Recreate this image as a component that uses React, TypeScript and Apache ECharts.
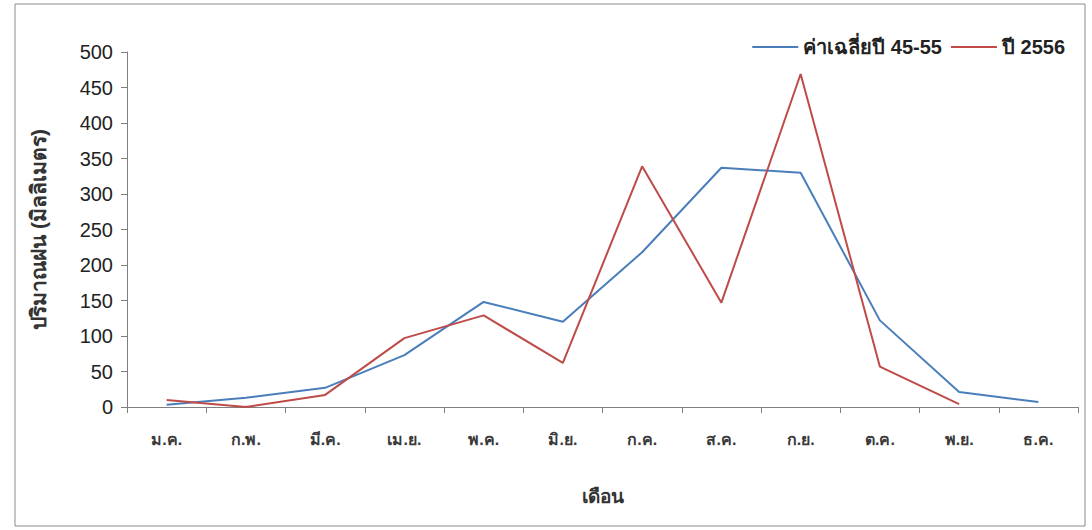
import React, { useEffect, useRef } from "react";
import * as echarts from "echarts";

const months = ["ม.ค.", "ก.พ.", "มี.ค.", "เม.ย.", "พ.ค.", "มิ.ย.", "ก.ค.", "ส.ค.", "ก.ย.", "ต.ค.", "พ.ย.", "ธ.ค."];
const avg4555 = [3, 13, 27, 73, 148, 120, 218, 337, 330, 122, 21, 7];
const year2556 = [10, 0, 17, 97, 129, 62, 339, 147, 469, 57, 4, null];

const FONT = "Liberation Sans, Arial, Noto Sans, sans-serif";

export default function App() {
  const ref = useRef<HTMLDivElement>(null);

  useEffect(() => {
    if (!ref.current) return;
    const chart = echarts.init(ref.current, null, { renderer: "svg" });
    chart.setOption({
      animation: false,
      backgroundColor: "#ffffff",
      textStyle: { fontFamily: FONT },
      graphic: [
        {
          type: "rect",
          shape: { x: 15, y: 4, width: 1070, height: 522 },
          style: { fill: "none", stroke: "#8a8a8a", lineWidth: 1 },
          silent: true,
        },
      ],
      legend: {
        top: 32,
        right: 22,
        itemWidth: 46,
        itemHeight: 2,
        itemGap: 9,
        icon: "rect",
        textStyle: { fontSize: 20, color: "#222", fontWeight: "bold", fontFamily: FONT },
        data: ["ค่าเฉลี่ยปี 45-55", "ปี 2556"],
      },
      grid: { left: 127, right: 14, top: 52, bottom: 123 },
      xAxis: {
        type: "category",
        data: months,
        boundaryGap: true,
        name: "เดือน",
        nameLocation: "middle",
        nameGap: 80,
        nameTextStyle: { fontSize: 19, fontWeight: "bold", color: "#333" },
        axisLine: { lineStyle: { color: "#808080", width: 1 } },
        axisTick: { show: true, length: 6, inside: false, lineStyle: { color: "#808080" } },
        axisLabel: { fontSize: 16, fontWeight: "bold", color: "#3a3a3a", margin: 24 },
      },
      yAxis: {
        type: "value",
        min: 0,
        max: 500,
        interval: 50,
        name: "ปริมาณฝน (มิลลิเมตร)",
        nameLocation: "middle",
        nameRotate: 90,
        nameGap: 78,
        nameTextStyle: { fontSize: 21, fontWeight: "bold", color: "#333" },
        axisLine: { show: true, lineStyle: { color: "#808080", width: 1 } },
        axisTick: { show: true, length: 6, lineStyle: { color: "#808080" } },
        axisLabel: { fontSize: 20, color: "#222", margin: 14 },
        splitLine: { show: false },
      },
      series: [
        {
          name: "ค่าเฉลี่ยปี 45-55",
          type: "line",
          data: avg4555,
          symbol: "none",
          lineStyle: { color: "#4a7ebb", width: 2 },
          itemStyle: { color: "#4a7ebb" },
        },
        {
          name: "ปี 2556",
          type: "line",
          data: year2556,
          symbol: "none",
          lineStyle: { color: "#be4b48", width: 2 },
          itemStyle: { color: "#be4b48" },
        },
      ],
    });
    return () => chart.dispose();
  }, []);

  return (
    <div
      ref={ref}
      style={{ position: "fixed", left: 0, top: 0, width: 1092, height: 530 }}
    />
  );
}
